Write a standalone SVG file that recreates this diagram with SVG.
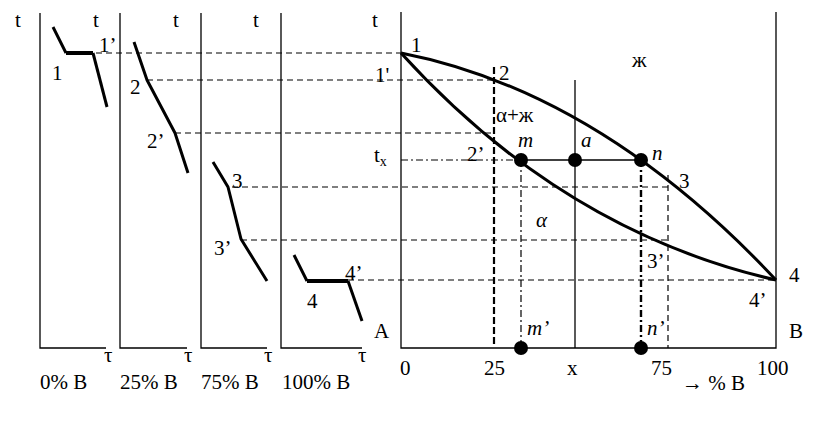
<svg xmlns="http://www.w3.org/2000/svg" width="821" height="425" viewBox="0 0 821 425" font-family="'Liberation Serif', Tinos, 'DejaVu Serif', serif">
<style>
text{font-family:"Liberation Serif",Tinos,"DejaVu Serif",serif;font-size:21px;fill:#000}
.i{font-style:italic}
.ax{stroke:#000;stroke-width:1.3;fill:none}
.cv{stroke:#000;stroke-width:3;fill:none;stroke-linejoin:round}
.dh{stroke:#000;stroke-width:1.2;stroke-dasharray:6,4;fill:none}
.dv{stroke:#000;stroke-width:2.2;stroke-dasharray:7,3;fill:none}
.dd{stroke:#000;stroke-width:1.2;stroke-dasharray:7,3,2,3;fill:none}
.ddt{stroke:#000;stroke-width:2.4;stroke-dasharray:7,3,2,3;fill:none}
.dot{fill:#000}
</style>
<rect width="821" height="425" fill="#fff"/>

<g id="connectors">
<path class="dh" d="M96,53H401"/>
<path class="dh" d="M147,80H494"/>
<path class="dh" d="M175,133H494"/>
<path class="dh" d="M232,187H668"/>
<path class="dh" d="M241,240H668"/>
<path class="dh" d="M348,280H776"/>
<path class="dd" d="M401,160H521"/>
<path class="dv" d="M494,67V345"/>
<path class="dd" d="M521,160V348"/>
<path class="ddt" d="M641,160V348"/>
<path class="dh" d="M668,175V348"/>
<path class="ax" d="M575,80V348"/>
<path class="ax" d="M521,160H641"/>
</g>

<g id="panel-0">
<path class="ax" d="M40,13V348H106"/>
<text x="15" y="27">t</text>
<text x="93" y="27">t</text>
<path class="cv" d="M53,27L66,53"/>
<path class="cv" d="M66,53H93" style="stroke-width:4"/>
<path class="cv" d="M93,53L107,107"/>
<text x="52" y="80">1</text>
<text x="99" y="52">1’</text>
<text x="104" y="362">τ</text>
<text x="40" y="389">0% B</text>
</g>

<g id="panel-25">
<path class="ax" d="M120,13V348H187"/>
<text x="173" y="27">t</text>
<path class="cv" d="M134,42L147,80L175,133L188,173"/>
<text x="130" y="94">2</text>
<text x="147" y="148">2’</text>
<text x="184" y="362">τ</text>
<text x="120" y="389">25% B</text>
</g>

<g id="panel-75">
<path class="ax" d="M201,13V348H267"/>
<text x="253" y="27">t</text>
<path class="cv" d="M213,162L228,187L241,239L267,281"/>
<text x="232" y="188">3</text>
<text x="214" y="255">3’</text>
<text x="264" y="362">τ</text>
<text x="201" y="389">75% B</text>
</g>

<g id="panel-100">
<path class="ax" d="M281,13V348H362"/>
<path class="cv" d="M294,255L307,281"/>
<path class="cv" d="M307,281H348" style="stroke-width:4"/>
<path class="cv" d="M348,281L362,321"/>
<text x="307" y="308">4</text>
<text x="345" y="280">4’</text>
<text x="358" y="362">τ</text>
<text x="282" y="389">100% B</text>
</g>

<g id="main-diagram">
<path class="ax" d="M401,12V348H776V12"/>
<text x="372" y="27">t</text>
<text x="374" y="338">A</text>
<text x="789" y="338">B</text>
<text x="400" y="375">0</text>
<text x="484" y="375">25</text>
<text x="567" y="375">x</text>
<text x="651" y="375">75</text>
<text x="757" y="375">100</text>
<text x="682" y="390">→ % B</text>
</g>

<g id="liquidus">
<path class="cv" d="M401,53Q600,92 776,280"/>
</g>
<g id="solidus">
<path class="cv" d="M401,53C480,140 600,240 776,280"/>
</g>

<g id="labels">
<text x="411" y="52">1</text>
<text x="375" y="82">1'</text>
<text x="499" y="80">2</text>
<text x="496" y="122">α+ж</text>
<text x="632" y="67">ж</text>
<text x="467" y="161">2’</text>
<text x="374" y="162">t<tspan font-size="14" dy="4">x</tspan></text>
<text x="679" y="188">3</text>
<text class="i" x="536" y="227">α</text>
<text x="647" y="268">3’</text>
<text x="789" y="282">4</text>
<text x="749" y="307">4’</text>
</g>

<g id="point-m"><circle class="dot" cx="521" cy="160" r="7"/><text class="i" x="518" y="147">m</text></g>
<g id="point-a"><circle class="dot" cx="575" cy="160" r="7"/><text class="i" x="581" y="147">a</text></g>
<g id="point-n"><circle class="dot" cx="641" cy="160" r="7"/><text class="i" x="652" y="160">n</text></g>
<g id="point-m2"><circle class="dot" cx="521" cy="348" r="7"/><text class="i" x="527" y="335">m’</text></g>
<g id="point-n2"><circle class="dot" cx="641" cy="348" r="7"/><text class="i" x="647" y="335">n’</text></g>
</svg>
